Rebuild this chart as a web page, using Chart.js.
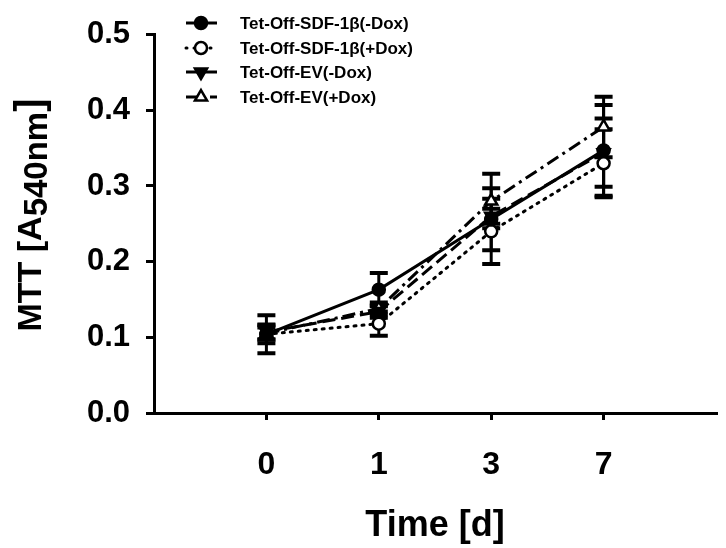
<!DOCTYPE html>
<html>
<head>
<meta charset="utf-8">
<script src="https://cdn.jsdelivr.net/npm/chart.js@4.4.1/dist/chart.umd.min.js"></script>
<style>
html,body{margin:0;padding:0;background:#fff;}
canvas{display:block;}
</style>
</head>
<body>
<canvas id="c" width="726" height="548"></canvas>
<script>
// ---- data ----
const timeLabels = ['0', '1', '3', '7'];
const xIdx = [0, 1, 2, 3];
const seriesNames = ['Tet-Off-SDF-1\u03B2(-Dox)', 'Tet-Off-SDF-1\u03B2(+Dox)', 'Tet-Off-EV(-Dox)', 'Tet-Off-EV(+Dox)'];
const sdfMinus    = [0.104, 0.163, 0.256, 0.347];
const sdfMinusErr = [0.025, 0.022, 0.041, 0.060];
const sdfPlus     = [0.104, 0.118, 0.240, 0.330];
const sdfPlusErr  = [0.012, 0.016, 0.043, 0.045];
const evMinus     = [0.107, 0.134, 0.260, 0.344];
const evMinusErr  = [0.010, 0.008, 0.010, 0.045];
const evPlus      = [0.105, 0.138, 0.280, 0.378];
const evPlusErr   = [0.008, 0.008, 0.036, 0.040];
const yTicks = [0, 0.1, 0.2, 0.3, 0.4, 0.5];

const FONT = '"Liberation Sans", Arial, sans-serif';
const values = [sdfMinus, sdfPlus, evMinus, evPlus];
const errors = [sdfMinusErr, sdfPlusErr, evMinusErr, evPlusErr];
const styles = [
  {dash: [], pointStyle: 'circle', radius: 6, rotation: 0, fill: '#000'},
  {dash: [2, 6], pointStyle: 'circle', radius: 6, rotation: 0, fill: '#fff'},
  {dash: [13, 6], pointStyle: 'triangle', radius: 7, rotation: 180, fill: '#000'},
  {dash: [13, 5, 3, 5], pointStyle: 'triangle', radius: 7, rotation: 0, fill: '#fff'}
];

const datasets = values.map((vals, k) => ({
  label: seriesNames[k],
  data: vals.map((v, i) => ({x: xIdx[i], y: v})),
  borderColor: '#000',
  borderWidth: 3,
  borderDash: styles[k].dash,
  borderCapStyle: k === 1 ? 'round' : 'butt',
  pointStyle: styles[k].pointStyle,
  pointRadius: styles[k].radius,
  pointRotation: styles[k].rotation,
  pointBackgroundColor: styles[k].fill,
  pointBorderColor: '#000',
  pointBorderWidth: 2.5,
  fill: false,
  tension: 0,
  clip: false
}));

const errorBars = {
  id: 'errorBars',
  beforeDatasetsDraw(chart) {
    const ctx = chart.ctx, xs = chart.scales.x, ys = chart.scales.y;
    ctx.save();
    ctx.strokeStyle = '#000';
    values.forEach((vals, k) => {
      vals.forEach((v, i) => {
        const px = xs.getPixelForValue(xIdx[i]);
        const t = ys.getPixelForValue(v + errors[k][i]);
        const b = ys.getPixelForValue(v - errors[k][i]);
        ctx.lineWidth = 3;
        ctx.beginPath();
        ctx.moveTo(px, t); ctx.lineTo(px, b);
        ctx.stroke();
        ctx.lineWidth = 4;
        ctx.beginPath();
        ctx.moveTo(px - 9, t); ctx.lineTo(px + 9, t);
        ctx.moveTo(px - 9, b); ctx.lineTo(px + 9, b);
        ctx.stroke();
      });
    });
    ctx.restore();
  }
};

const customLegend = {
  id: 'customLegend',
  afterDraw(chart) {
    const ctx = chart.ctx;
    const rowY = [23, 48, 72, 97];
    ctx.save();
    seriesNames.forEach((name, k) => {
      const y = rowY[k];
      ctx.strokeStyle = '#000';
      ctx.lineWidth = 3;
      ctx.lineCap = k === 1 ? 'round' : 'butt';
      const legendDash = [[], [1, 7], [], [11, 5, 3, 5]];
      ctx.setLineDash(legendDash[k]);
      ctx.beginPath();
      ctx.moveTo(186, y); ctx.lineTo(217, y);
      ctx.stroke();
      ctx.setLineDash([]);
      ctx.fillStyle = styles[k].fill;
      ctx.lineWidth = 2.5;
      Chart.helpers.drawPoint(ctx, {
        pointStyle: styles[k].pointStyle,
        radius: styles[k].radius,
        rotation: styles[k].rotation,
        borderWidth: 2.5
      }, 201, y);
      ctx.fillStyle = '#000';
      ctx.font = 'bold 17px ' + FONT;
      ctx.textBaseline = 'middle';
      ctx.textAlign = 'left';
      ctx.fillText(name, 240, y + 1);
    });
    ctx.restore();
  }
};

const yTitle = {
  id: 'yTitle',
  afterDraw(chart) {
    const ctx = chart.ctx;
    ctx.save();
    ctx.translate(30, 215);
    ctx.rotate(-Math.PI / 2);
    ctx.fillStyle = '#000';
    ctx.textBaseline = 'alphabetic';
    ctx.textAlign = 'left';
    const mainFont = 'bold 34px ' + FONT;
    const subFont = 'bold 33px ' + FONT;
    const brFont = 'bold 40px ' + FONT;
    const p1 = 'MTT [A', p2 = '540nm', p3 = ']';
    ctx.font = mainFont;
    const w1 = ctx.measureText(p1).width;
    ctx.font = subFont;
    const w2 = ctx.measureText(p2).width;
    ctx.font = brFont;
    const w3 = ctx.measureText(p3).width;
    let x = -(w1 + w2 + w3) / 2;
    ctx.font = mainFont;
    ctx.fillText(p1, x, 11); x += w1;
    ctx.font = subFont;
    ctx.fillText(p2, x, 17); x += w2;
    ctx.font = brFont;
    ctx.fillText(p3, x, 13);
    ctx.restore();
  }
};

new Chart(document.getElementById('c'), {
  type: 'line',
  data: {datasets},
  plugins: [errorBars, customLegend, yTitle],
  options: {
    responsive: false,
    animation: false,
    events: [],
    layout: {padding: {left: 0, right: 10, top: 21, bottom: 0}},
    plugins: {legend: {display: false}, tooltip: {enabled: false}},
    scales: {
      x: {
        type: 'linear',
        min: -1, max: 4,
        afterBuildTicks(scale) { scale.ticks = xIdx.map(v => ({value: v})); },
        afterFit(scale) { scale.height = 548 - 413; },
        ticks: {
          callback: (v) => timeLabels[xIdx.indexOf(v)] ?? '',
          color: '#000',
          font: {family: FONT, size: 32, weight: 'bold'},
          padding: 26,
          maxRotation: 0,
          autoSkip: false
        },
        grid: {drawOnChartArea: false, color: '#000', lineWidth: 3, tickLength: 7},
        border: {color: '#000', width: 3},
        title: {
          display: true,
          text: 'Time [d]',
          color: '#000',
          font: {family: FONT, size: 36, weight: 'bold'},
          padding: {top: 0, bottom: 0}
        }
      },
      y: {
        min: 0, max: 0.5,
        afterBuildTicks(scale) { scale.ticks = yTicks.map(v => ({value: v})); },
        afterFit(scale) { scale.width = 154; },
        ticks: {
          callback: (v) => Number(v).toFixed(1),
          color: '#000',
          font: {family: FONT, size: 31, weight: 'bold'},
          padding: 16
        },
        grid: {drawOnChartArea: false, color: '#000', lineWidth: 3, tickLength: 8},
        border: {color: '#000', width: 3}
      }
    }
  }
});
</script>
</body>
</html>
